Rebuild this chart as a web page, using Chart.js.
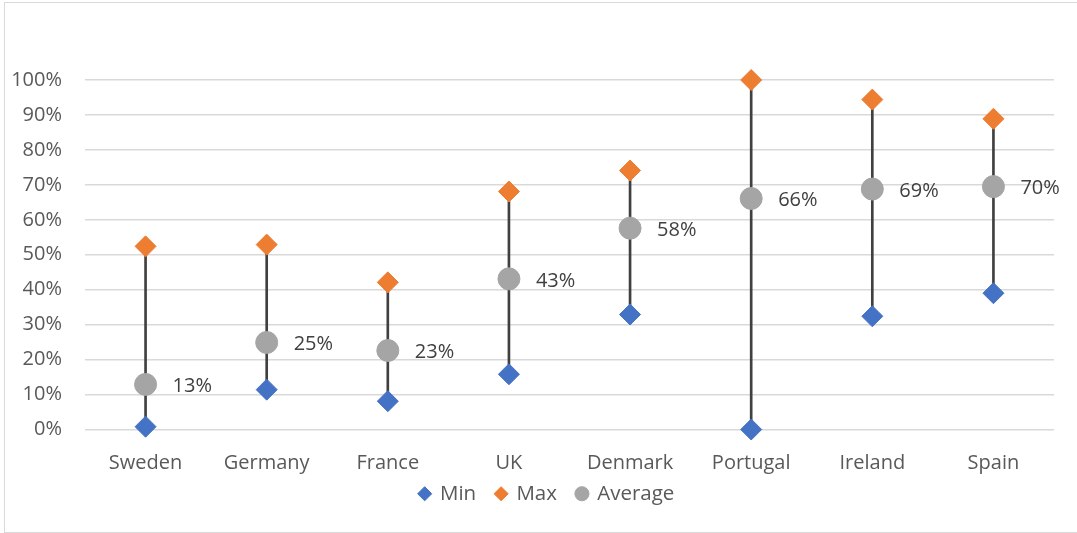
<!DOCTYPE html>
<html lang="en">

<head>
    <meta charset="UTF-8">
    <title>Min Max Average</title>
    <script src="https://cdn.jsdelivr.net/npm/chart.js"></script>
    <style>
        body { margin: 0; background: #fff; }
        .moldura {
            position: absolute;
            left: 4px;
            top: 2px;
            width: 1074px;
            height: 529px;
            border: 1px solid #d9d9d9;
            border-right: none;
        }
    </style>
</head>

<body>

    <div class="moldura">
        <canvas id="grafico"></canvas>
    </div>

<script>

    // dados (em %)
    const paises = ['Sweden', 'Germany', 'France', 'UK', 'Denmark', 'Portugal', 'Ireland', 'Spain'];
    const minimos = [0.8, 11.4, 8.1, 15.8, 32.9, 0, 32.4, 39.0];
    const maximos = [52.4, 52.9, 42.1, 68.1, 74.1, 100, 94.4, 88.9];
    const medias = [12.9, 24.9, 22.6, 43.1, 57.6, 66.1, 68.8, 69.5];

    const fonte = "'Open Sans', 'Noto Sans', sans-serif";

    // rótulos das médias ao lado do ponto
    const rotulosMedia = {
        id: 'rotulosMedia',
        afterDatasetsDraw(chart) {
            const meta = chart.getDatasetMeta(3);
            const ctx = chart.ctx;
            ctx.save();
            ctx.font = '20px ' + fonte;
            ctx.fillStyle = '#404040';
            ctx.textAlign = 'left';
            ctx.textBaseline = 'middle';
            meta.data.forEach((ponto, i) => {
                ctx.fillText(Math.round(medias[i]) + '%', ponto.x + 27, ponto.y + 2);
            });
            ctx.restore();
        }
    };

    // legenda um pouco mais para a direita
    const moveLegenda = {
        id: 'moveLegenda',
        afterLayout(chart) {
            chart.legend.left += 15;
            chart.legend.right += 15;
        }
    };

    const ctx = document.getElementById('grafico');

    new Chart(ctx, {
        data: {
            labels: paises,
            datasets: [
                {
                    type: 'bar',
                    label: 'faixa',
                    data: minimos.map((m, i) => [m, maximos[i]]),
                    backgroundColor: '#404040',
                    barThickness: 2,
                    order: 10
                },
                {
                    type: 'line',
                    label: 'Min',
                    data: minimos,
                    showLine: false,
                    clip: false,
                    pointStyle: 'rectRot',
                    pointRadius: 10.5,
                    pointBorderWidth: 1,
                    backgroundColor: '#4472C4',
                    borderColor: '#4472C4',
                    order: 1
                },
                {
                    type: 'line',
                    label: 'Max',
                    data: maximos,
                    showLine: false,
                    clip: false,
                    pointStyle: 'rectRot',
                    pointRadius: 10.5,
                    pointBorderWidth: 1,
                    backgroundColor: '#ED7D31',
                    borderColor: '#ED7D31',
                    order: 1
                },
                {
                    type: 'line',
                    label: 'Average',
                    data: medias,
                    showLine: false,
                    clip: false,
                    pointStyle: 'circle',
                    pointRadius: 11,
                    pointBorderWidth: 1,
                    backgroundColor: '#A5A5A5',
                    borderColor: '#A5A5A5',
                    order: 0
                }
            ]
        },
        options: {
            responsive: true,
            maintainAspectRatio: false,
            animation: false,
            layout: {
                padding: { top: 77, left: 5, right: 25, bottom: 18 }
            },
            plugins: {
                tooltip: { enabled: false },
                legend: {
                    position: 'bottom',
                    labels: {
                        filter: (item) => item.datasetIndex !== 0,
                        sort: (a, b) => a.datasetIndex - b.datasetIndex,
                        usePointStyle: true,
                        boxWidth: 10,
                        boxHeight: 10,
                        padding: 20,
                        color: '#595959',
                        font: { size: 20.5, family: fonte }
                    }
                }
            },
            scales: {
                x: {
                    offset: true,
                    grid: { display: false },
                    border: { display: false },
                    afterFit: (escala) => {
                        escala.paddingLeft = 0;
                        escala.paddingRight = 0;
                        escala.height = 34;
                        // rótulos podem passar da caixa do eixo
                        escala._computeLabelArea = () => undefined;
                    },
                    ticks: {
                        padding: 13.7,
                        maxRotation: 0,
                        minRotation: 0,
                        color: '#595959',
                        font: { size: 20, family: fonte }
                    }
                },
                y: {
                    min: 0,
                    max: 100,
                    grid: { color: '#d9d9d9', lineWidth: 1.5, drawTicks: false },
                    border: { display: false },
                    afterFit: (escala) => {
                        escala.width = 75;
                    },
                    ticks: {
                        stepSize: 10,
                        padding: 23,
                        color: '#595959',
                        font: { size: 20, family: fonte },
                        callback: (v) => v + '%'
                    }
                }
            }
        },
        plugins: [rotulosMedia, moveLegenda]
    });

</script>

</body>

</html>
